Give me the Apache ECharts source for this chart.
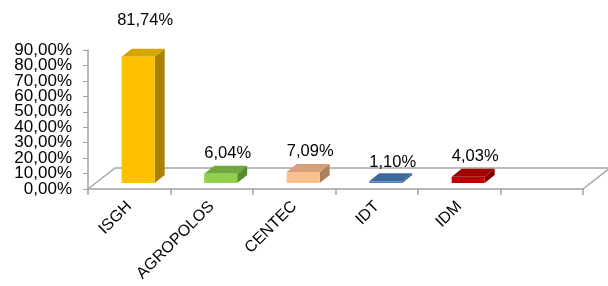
<!DOCTYPE html>
<html>
<head>
<meta charset="utf-8">
<script src="https://cdn.jsdelivr.net/npm/echarts@6/dist/echarts.min.js"></script>
<style>
  html, body { margin: 0; padding: 0; background: #fff; }
  #chart { width: 608px; height: 286px; }
</style>
</head>
<body>
<div id="chart"></div>
<script>
const categories = ["ISGH", "AGROPOLOS", "CENTEC", "IDT", "IDM", ""]
const shares = [81.74, 6.04, 7.09, 1.10, 4.03]
const yTicks = [0, 10, 20, 30, 40, 50, 60, 70, 80, 90]

// front / top / side colours of each box
const faceColors = [
    ["#ffc000", "#d6a500", "#a98200"],
    ["#92d050", "#70a83c", "#5a8a2e"],
    ["#fac090", "#d6a07a", "#ad7f5d"],
    ["#4f81bd", "#3f6a9e", "#345887"],
    ["#c00000", "#a00000", "#800000"]
]

const fmt = v => v.toFixed(2).replace(".", ",") + "%"
const font = "Liberation Sans, Arial"

const chart = echarts.init(document.getElementById("chart"))

chart.setOption({
    animation: false,
    grid: {left: 88, right: 25, top: 50, bottom: 97},
    xAxis: {
        type: "category",
        data: categories,
        axisLine: {lineStyle: {color: "#a0a0a0", width: 1.5}},
        axisTick: {show: true, length: 6, lineStyle: {color: "#a0a0a0", width: 1.5}},
        axisLabel: {
            rotate: 45, margin: 15, color: "#000", fontSize: 16,
            fontFamily: font, interval: 0
        }
    },
    yAxis: {
        type: "value",
        min: yTicks[0], max: yTicks[yTicks.length - 1], interval: yTicks[1] - yTicks[0],
        splitLine: {show: false},
        axisLine: {show: true, lineStyle: {color: "#a0a0a0", width: 1.5}},
        axisTick: {show: true, length: 5, lineStyle: {color: "#a0a0a0"}},
        // labels sit too close for the axis overlap check, drawn below instead
        axisLabel: {show: false}
    },
    series: [
        {
            // floor of the 3d box
            type: "custom",
            silent: true,
            data: [[0, 0]],
            z: 1,
            renderItem(params, api) {
                const cs = params.coordSys
                const x0 = cs.x, x1 = cs.x + cs.width, y0 = cs.y + cs.height
                const dx = 27, dy = 21
                const st = {stroke: "#a6a6a6", lineWidth: 1.5, fill: null}
                return {
                    type: "group",
                    children: [
                        {type: "polyline", shape: {points: [[x0, y0], [x0 + dx, y0 - dy], [x1 + dx, y0 - dy]]}, style: st},
                        {type: "line", shape: {x1: x1, y1: y0, x2: x1 + dx, y2: y0 - dy}, style: st}
                    ]
                }
            }
        },
        {
            // value axis labels
            type: "custom",
            silent: true,
            clip: false,
            data: yTicks.map(v => [0, v]),
            renderItem(params, api) {
                const p = api.coord([0, api.value(1)])
                return {
                    type: "text",
                    style: {
                        text: fmt(api.value(1)),
                        x: params.coordSys.x - 16, y: p[1],
                        align: "right", verticalAlign: "middle",
                        fill: "#000", fontSize: 17, fontFamily: font
                    }
                }
            }
        },
        {
            type: "custom",
            z: 3,
            data: shares.map((v, i) => [i, v]),
            renderItem(params, api) {
                const i = api.value(0)
                const bottom = api.coord([i, 0])
                const top = api.coord([i, api.value(1)])
                const band = api.size([1, 0])[0]
                const w = band * 0.4
                const cx = bottom[0] + band * 0.108
                const base = bottom[1] - 6
                const h = bottom[1] - top[1]
                const yt = base - h
                const l = cx - w / 2, r = cx + w / 2
                const dx = 10, dy = 8
                const c = faceColors[i]
                return {
                    type: "group",
                    children: [
                        {type: "polygon", shape: {points: [[r, yt], [r + dx, yt - dy], [r + dx, base - dy], [r, base]]}, style: {fill: c[2]}},
                        {type: "polygon", shape: {points: [[l, yt], [r, yt], [r + dx, yt - dy], [l + dx, yt - dy]]}, style: {fill: c[1]}},
                        {type: "rect", shape: {x: l, y: yt, width: w, height: h}, style: {fill: c[0]}},
                        {
                            type: "text",
                            style: {
                                text: fmt(api.value(1)),
                                x: cx + 7, y: yt - 19 - 0.14 * h,
                                align: "center", verticalAlign: "middle",
                                fill: "#000", fontSize: 16.5, fontFamily: font
                            }
                        }
                    ]
                }
            }
        }
    ]
})
</script>
</body>
</html>
